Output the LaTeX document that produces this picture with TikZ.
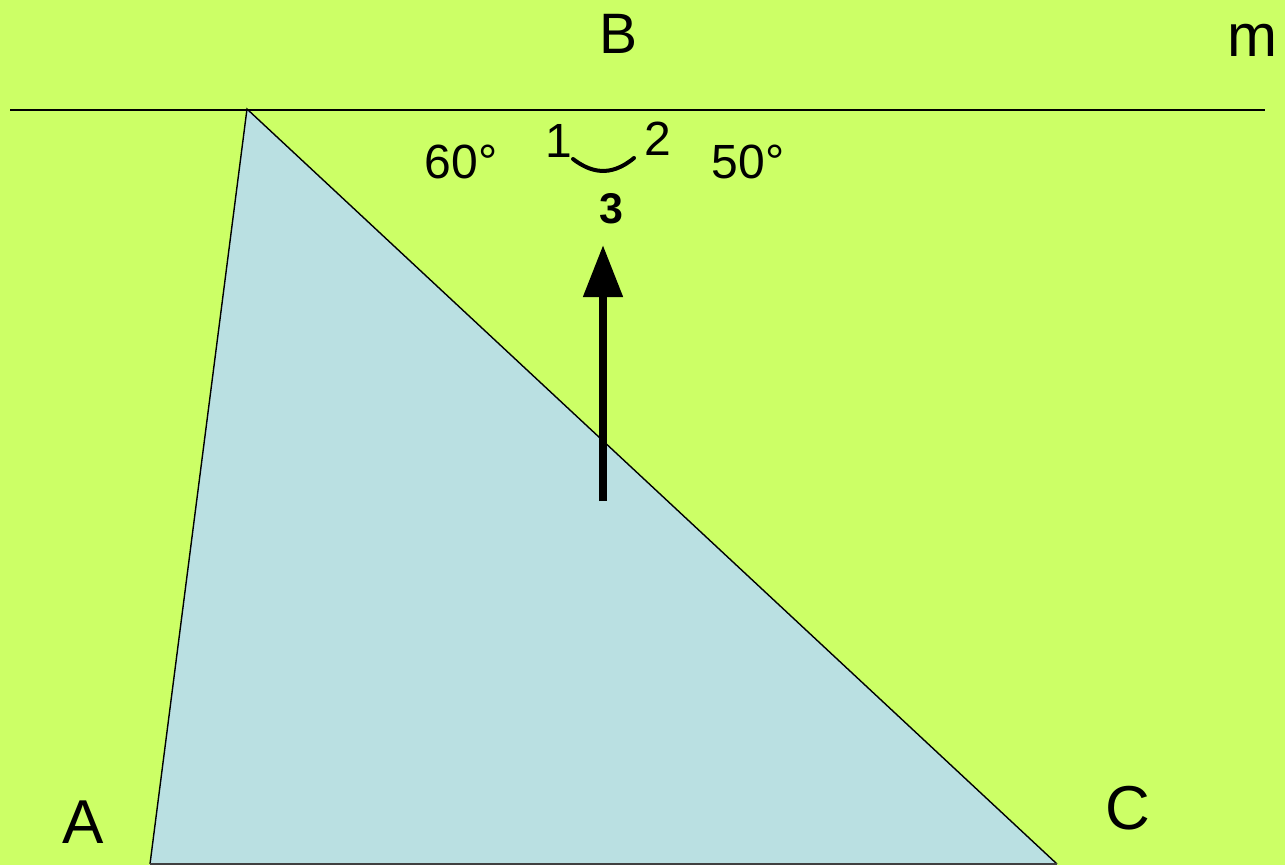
\documentclass[tikz,border=0pt]{standalone}
\usepackage{fontspec}
\setmainfont{Liberation Sans}
\usetikzlibrary{arrows.meta}
\definecolor{bg}{RGB}{204,255,102}
\definecolor{tri}{RGB}{186,224,226}
\tikzset{
  lbl/.style={inner sep=0pt, anchor=base},
  edge/.style={draw=black, line width=1.4pt},
}
\begin{document}
\begin{tikzpicture}[x=1pt,y=-1pt]
\fill[bg] (0,0) rectangle (1285,865);
\useasboundingbox (0,0) rectangle (1285,865);
% triangle
\coordinate (Bv) at (247,109);
\coordinate (Av) at (150,864);
\coordinate (Cv) at (1057,864);
\fill[tri] (Bv) -- (Av) -- (Cv) -- cycle;
\draw[edge] (Cv) -- (Bv) -- (Av);
\draw[line width=1.4pt, draw=black!75] (Av) -- (Cv);
% line m
\coordinate (mL) at (10,110);
\coordinate (mR) at (1265,110);
\draw[line width=1.5pt] (mL) -- (mR);
% arrow
\coordinate (aS) at (603,501);
\coordinate (aE) at (603,245);
\draw[line width=8pt, -{Triangle[width=38pt,length=52pt]}] (aS) -- (aE);
% arc
\coordinate (k1) at (573,159);
\coordinate (k2) at (634,158);
\draw[line width=4pt, line cap=round] (k1) .. controls (590,172) and (610,178) .. (k2);
% labels
\node[lbl, font=\fontsize{57}{57}\selectfont] (B) at (619,53) {B};
\node[lbl, font=\fontsize{60}{60}\selectfont] (m) at (1252,56) {m};
\node[lbl, font=\fontsize{62}{62}\selectfont] (A) at (83,843) {A};
\node[lbl, font=\fontsize{62}{62}\selectfont] (C) at (1128,829) {C};
\node[lbl, font=\fontsize{48}{48}\selectfont] (a60) at (461,178) {60°};
\node[lbl, font=\fontsize{48}{48}\selectfont] (a50) at (748,178) {50°};
\node[lbl, font=\fontsize{48}{48}\selectfont] (n1) at (559,157) {1};
\node[lbl, font=\fontsize{48}{48}\selectfont] (n2) at (658,155) {2};
\node[lbl, font=\fontsize{43}{43}\selectfont\bfseries] (n3) at (611,223) {3};
\end{tikzpicture}
\end{document}
